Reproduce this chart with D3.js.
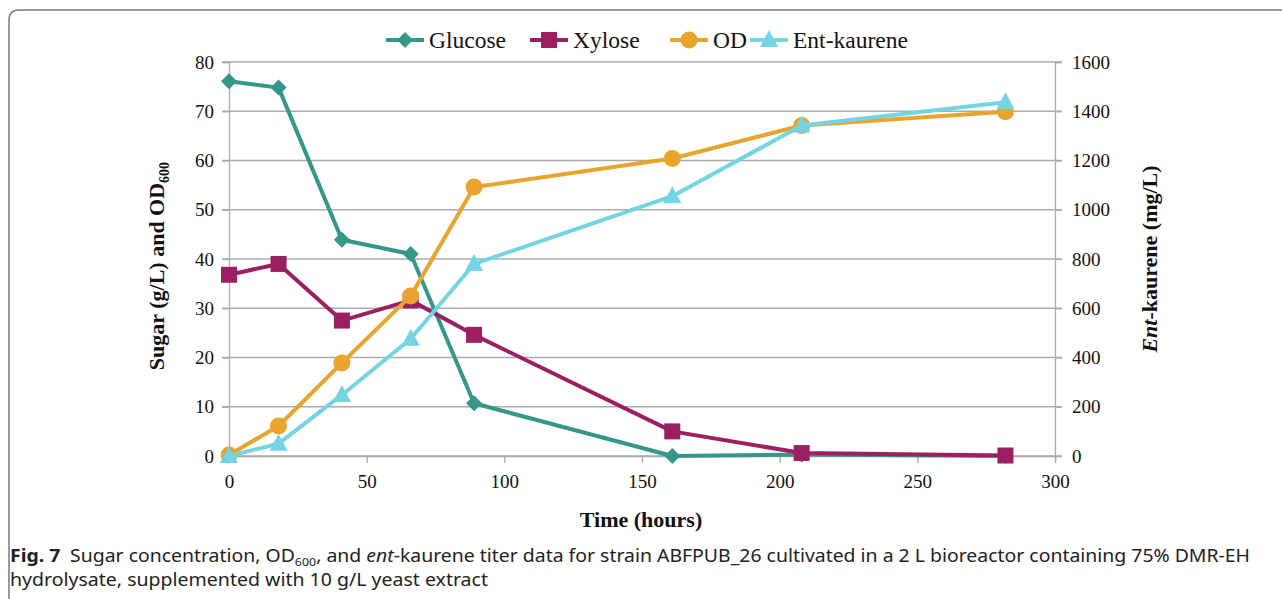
<!DOCTYPE html>
<html><head><meta charset="utf-8">
<script src="https://cdn.jsdelivr.net/npm/d3@7"></script>
<style>body{margin:0;background:#fff;}svg{display:block;}</style>
</head><body>
<script>
const times = [0, 18, 41, 66, 89, 161, 208, 282];
const glucose = [76.1, 74.8, 43.9, 41.0, 10.7, 0.0, 0.3, 0.0];
const xylose = [36.8, 39.0, 27.5, 31.6, 24.6, 5.0, 0.6, 0.1];
const od = [0.2, 6.1, 18.9, 32.5, 54.6, 60.4, 67.1, 69.9];
const entKaurene = [0, 50, 248, 476, 780, 1055, 1342, 1437];
const xTicks = [0, 50, 100, 150, 200, 250, 300];
const yLeftTicks = [0, 10, 20, 30, 40, 50, 60, 70, 80];
const yRightTicks = [0, 200, 400, 600, 800, 1000, 1200, 1400, 1600];
const seriesNames = ["Glucose", "Xylose", "OD", "Ent-kaurene"];
const colors = ["#35978a", "#9c1f62", "#e9a42d", "#74d4e4"];

const W = 1282, H = 599;
const svg = d3.select("body").append("svg").attr("width", W).attr("height", H);
const serif = "'Liberation Serif','Times New Roman',serif";

// frame
svg.append("path")
  .attr("d", "M9,599 L9,20 Q9,10 19,10 L1282,10")
  .attr("fill", "none").attr("stroke", "#7a7a7a").attr("stroke-width", 1.5);

const x = d3.scaleLinear().domain([0, 300]).range([229, 1055]);
const yL = d3.scaleLinear().domain([0, 80]).range([456, 62]);
const yR = d3.scaleLinear().domain([0, 1600]).range([456, 62]);

// gridlines
svg.append("g").selectAll("line").data(yLeftTicks).join("line")
  .attr("x1", 222).attr("x2", 1062)
  .attr("y1", d => yL(d)).attr("y2", d => yL(d))
  .attr("stroke", "#ababab").attr("stroke-width", 1.3);

// axes
const gx = svg.append("g").attr("transform", "translate(0,456)")
  .call(d3.axisBottom(x).tickValues(xTicks).tickSize(7).tickPadding(12).tickFormat(d3.format("d")));
const gl = svg.append("g").attr("transform", "translate(229,0)")
  .call(d3.axisLeft(yL).tickValues(yLeftTicks).tickSize(7).tickPadding(8).tickFormat(d3.format("d")));
const gr = svg.append("g").attr("transform", "translate(1055,0)")
  .call(d3.axisRight(yR).tickValues(yRightTicks).tickSize(7).tickPadding(10).tickFormat(d3.format("d")));
[gx, gl, gr].forEach(g => {
  g.selectAll(".domain").attr("stroke", "#ababab").attr("stroke-width", 1.3);
  g.selectAll(".tick line").attr("stroke", "#ababab").attr("stroke-width", 1.3);
  g.selectAll("text").attr("font-family", serif).attr("font-size", 19).attr("fill", "#111");
});

// series
const all = [glucose, xylose, od, entKaurene];
const scales = [yL, yL, yL, yR];
const line = (ys, s) => d3.line().x((d, i) => x(times[i])).y(d => s(d))(ys);

function marker(g, type, cx, cy, col) {
  if (type === 0) {
    const r = 8;
    g.append("path").attr("d", `M${cx},${cy - r} L${cx + r},${cy} L${cx},${cy + r} L${cx - r},${cy} Z`).attr("fill", col);
  } else if (type === 1) {
    g.append("rect").attr("x", cx - 8).attr("y", cy - 8).attr("width", 16).attr("height", 16).attr("fill", col);
  } else if (type === 2) {
    g.append("circle").attr("cx", cx).attr("cy", cy).attr("r", 8.5).attr("fill", col);
  } else {
    g.append("path").attr("d", `M${cx},${cy - 10} L${cx + 9},${cy + 7} L${cx - 9},${cy + 7} Z`).attr("fill", col);
  }
}

all.forEach((ys, k) => {
  const g = svg.append("g");
  g.append("path").attr("d", line(ys, scales[k])).attr("fill", "none")
    .attr("stroke", colors[k]).attr("stroke-width", 4).attr("stroke-linejoin", "round");
  ys.forEach((v, i) => marker(g, k, x(times[i]), scales[k](v), colors[k]));
});

// legend
const legX = [386, 530, 670, 750];
const lg = svg.append("g");
seriesNames.forEach((n, k) => {
  const ly = 40;
  lg.append("line").attr("x1", legX[k]).attr("x2", legX[k] + 38).attr("y1", ly).attr("y2", ly)
    .attr("stroke", colors[k]).attr("stroke-width", 4);
  marker(lg, k, legX[k] + 19, ly, colors[k]);
  lg.append("text").attr("x", legX[k] + 43).attr("y", ly + 8).text(n)
    .attr("font-family", serif).attr("font-size", 23.5).attr("fill", "#111");
});

// axis titles
svg.append("text").attr("x", 641).attr("y", 527).attr("text-anchor", "middle")
  .attr("font-family", serif).attr("font-weight", "bold").attr("font-size", 22).attr("fill", "#111")
  .text("Time (hours)");
const lt = svg.append("text").attr("transform", "translate(164,266) rotate(-90)").attr("text-anchor", "middle")
  .attr("font-family", serif).attr("font-weight", "bold").attr("font-size", 22).attr("fill", "#111");
lt.append("tspan").text("Sugar (g/L) and OD");
lt.append("tspan").text("600").attr("font-size", 14).attr("dy", 5);
const rt = svg.append("text").attr("transform", "translate(1157,259) rotate(-90)").attr("text-anchor", "middle")
  .attr("font-family", serif).attr("font-weight", "bold").attr("font-size", 22).attr("fill", "#111");
rt.append("tspan").text("Ent").attr("font-style", "italic");
rt.append("tspan").text("-kaurene (mg/L)");

// caption
const sans = "'Noto Sans','Open Sans',sans-serif";
const c1 = svg.append("text").attr("x", 10).attr("y", 562).attr("font-family", sans).attr("font-size", 18).attr("fill", "#222")
  .attr("textLength", 1240).attr("lengthAdjust", "spacingAndGlyphs");
c1.append("tspan").text("Fig. 7").attr("font-weight", "bold");
c1.append("tspan").text("\u2002Sugar concentration, OD");
c1.append("tspan").text("600").attr("font-size", 11.5).attr("dy", 4);
c1.append("tspan").text(", and ").attr("dy", -4);
c1.append("tspan").text("ent").attr("font-style", "italic");
c1.append("tspan").text("-kaurene titer data for strain ABFPUB_26 cultivated in a 2 L bioreactor containing 75% DMR-EH");
svg.append("text").attr("x", 10).attr("y", 586).attr("font-family", sans).attr("font-size", 18).attr("fill", "#222")
  .attr("textLength", 478).attr("lengthAdjust", "spacingAndGlyphs")
  .text("hydrolysate, supplemented with 10 g/L yeast extract");
</script>
</body></html>
